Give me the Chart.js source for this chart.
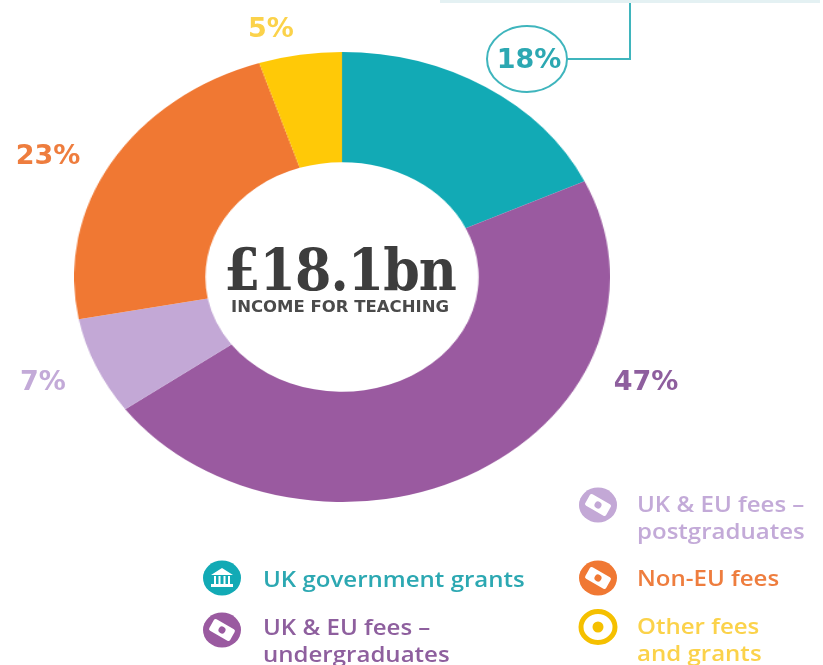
<!DOCTYPE html>
<html>
<head>
<meta charset="utf-8">
<title>Income for teaching</title>
<script src="https://cdn.jsdelivr.net/npm/chart.js@4"></script>
<style>
  html, body { margin: 0; padding: 0; background: #fff; }
  #page { position: relative; width: 823px; height: 665px; overflow: hidden; font-family: "Open Sans", sans-serif; }
  /* the donut in the reference is wider than it is tall */
  #donut { position: absolute; left: 117px; top: 52px; transform: scaleX(1.191); transform-origin: center; }
  #topbar { position: absolute; left: 440px; top: 0; width: 380px; height: 3px; background: #e4f1f3; }
  #callout, #icons { position: absolute; left: 0; top: 0; }
  .pct { position: absolute; font: bold 27px "DejaVu Sans", sans-serif; transform: translate(-50%, -50%); white-space: nowrap; filter: blur(0.4px); }
  #big { position: absolute; left: 340px; top: 269px; transform: translate(-50%, -50%) scale(0.97, 1.08); font: bold 54px "DejaVu Serif", serif; color: #3d3d3d; letter-spacing: -1px; white-space: nowrap; filter: blur(0.4px); }
  #small { position: absolute; left: 340px; top: 307px; transform: translate(-50%, -50%) scaleX(1.1); font: bold 15px "DejaVu Sans", sans-serif; color: #4a4a4a; white-space: nowrap; filter: blur(0.4px); }
  .leg { position: absolute; font-size: 21px; font-weight: 600; line-height: 27px; white-space: nowrap; transform: scaleX(1.145); transform-origin: left top; filter: blur(0.4px); }
</style>
</head>
<body>
<div id="page">
  <div id="topbar"></div>
  <canvas id="donut" width="450" height="450"></canvas>
  <svg id="callout" width="823" height="665">
    <ellipse cx="527" cy="59" rx="40" ry="33" fill="#fff" stroke="#3fb5bd" stroke-width="2"/>
    <path d="M567 59 H630 V3" fill="none" stroke="#3fb5bd" stroke-width="2"/>
  </svg>
  <svg id="icons" width="823" height="665"></svg>
  <div class="pct" id="pct0" style="left:529px;top:58px"></div>
  <div class="pct" id="pct1" style="left:646px;top:380px"></div>
  <div class="pct" id="pct2" style="left:43px;top:380px"></div>
  <div class="pct" id="pct3" style="left:48px;top:154px"></div>
  <div class="pct" id="pct4" style="left:271px;top:27px"></div>
  <div id="big">£18.1bn</div>
  <div id="small">INCOME FOR TEACHING</div>
  <div class="leg" id="leg0" style="left:263px;top:566px"></div>
  <div class="leg" id="leg1" style="left:263px;top:614px"></div>
  <div class="leg" id="leg2" style="left:637px;top:491px"></div>
  <div class="leg" id="leg3" style="left:637px;top:565px"></div>
  <div class="leg" id="leg4" style="left:637px;top:613px"></div>
</div>
<script>
const categories = ['UK government grants', 'UK & EU fees –\nundergraduates', 'UK & EU fees –\npostgraduates', 'Non-EU fees', 'Other fees\nand grants'];
const shares = [18, 47, 7, 23, 5];
const sliceColors = ['#12aab5', '#9a5aa0', '#c3a8d6', '#f07833', '#ffc907'];
const textColors = ['#2ca8b2', '#8e5f9e', '#c3aad8', '#ee7d3e', '#fbd24a'];
const iconCentres = [[222, 578], [222, 630], [598, 505], [598, 578], [598, 627]];

new Chart(document.getElementById('donut'), {
  type: 'doughnut',
  data: {
    labels: categories,
    datasets: [{ data: shares, backgroundColor: sliceColors, borderWidth: 0 }]
  },
  options: {
    responsive: false,
    animation: false,
    cutout: '51%',
    layout: { padding: 0 },
    plugins: { legend: { display: false }, tooltip: { enabled: false } }
  }
});

// percent labels and legend text
shares.forEach((v, i) => {
  const pct = document.getElementById('pct' + i);
  pct.textContent = v + '%';
  pct.style.color = textColors[i];
  const leg = document.getElementById('leg' + i);
  leg.innerHTML = categories[i].replace('&', '&amp;').replace('\n', '<br>');
  leg.style.color = textColors[i];
});

// legend icons
const icons = document.getElementById('icons');
let svg = '';
iconCentres.forEach(([x, y], i) => {
  if (i === 4) {
    svg += `<ellipse cx="${x}" cy="${y}" rx="17" ry="15.5" fill="#fff" stroke="#f5c000" stroke-width="5"/>`;
    svg += `<circle cx="${x}" cy="${y}" r="5.5" fill="#f5c000"/>`;
    return;
  }
  svg += `<ellipse cx="${x}" cy="${y}" rx="19" ry="17.5" fill="${sliceColors[i]}"/>`;
  if (i === 0) {
    svg += `<path d="M${x - 11} ${y - 3} L${x} ${y - 10} L${x + 11} ${y - 3} Z M${x - 11} ${y + 6} h22 v3 h-22 Z" fill="#fff"/>`;
    svg += `<path d="M${x - 7} ${y - 2} v8 M${x - 2.5} ${y - 2} v8 M${x + 2.5} ${y - 2} v8 M${x + 7} ${y - 2} v8" stroke="#fff" stroke-width="2"/>`;
  } else {
    svg += `<g transform="rotate(30 ${x} ${y})"><rect x="${x - 12}" y="${y - 6.5}" width="24" height="13" rx="2" fill="#fff"/><circle cx="${x}" cy="${y}" r="3.5" fill="${sliceColors[i]}"/></g>`;
  }
});
icons.innerHTML = svg;
</script>
</body>
</html>
